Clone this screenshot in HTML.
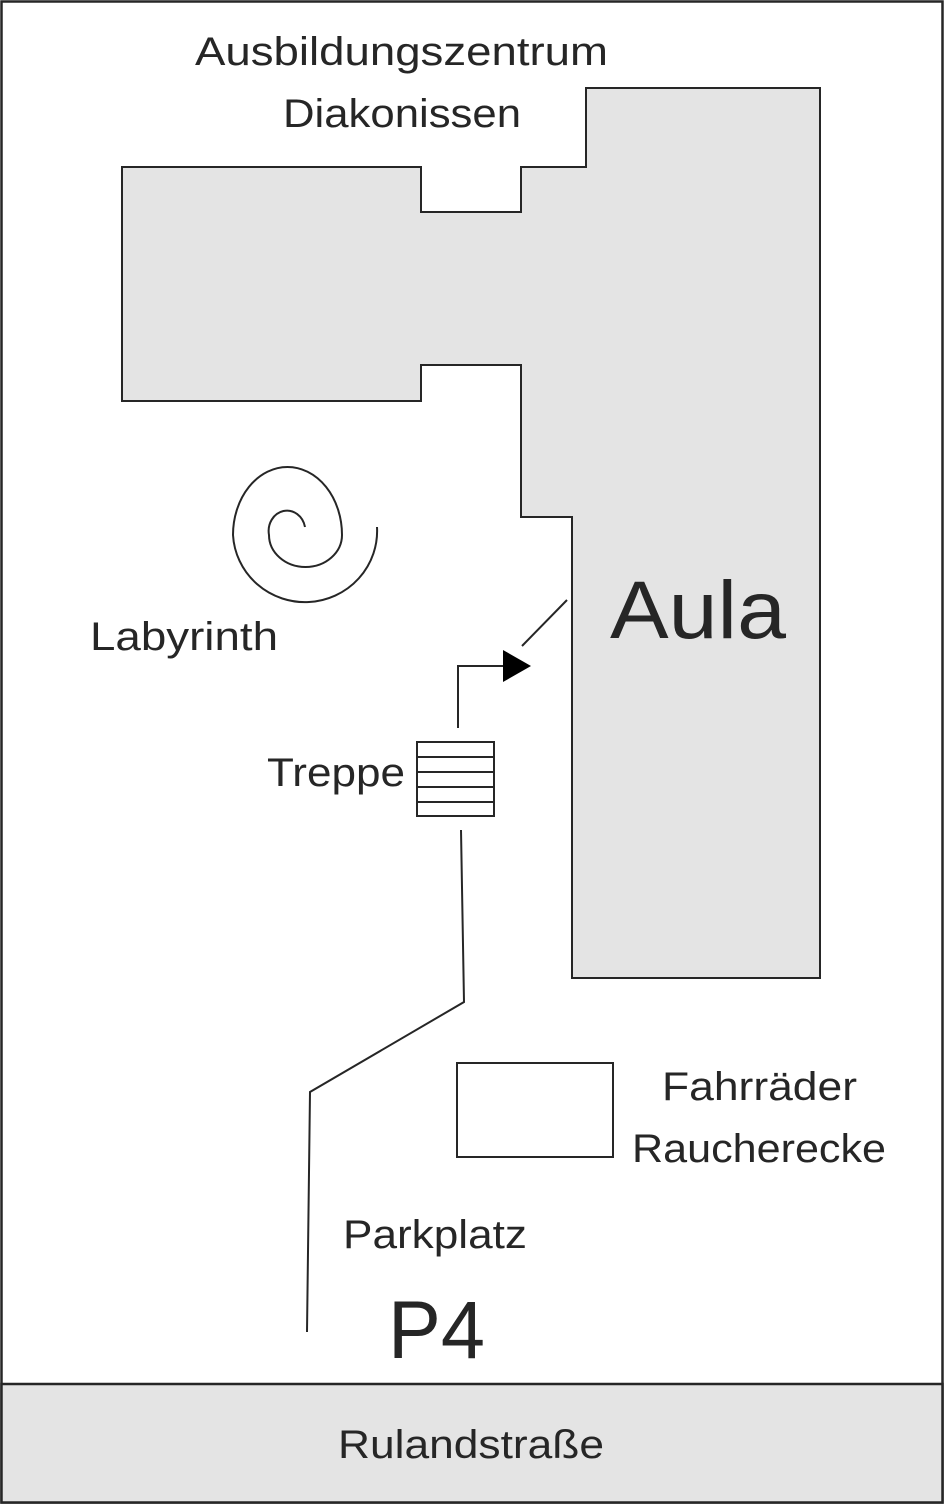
<!DOCTYPE html>
<html><head><meta charset="utf-8"><style>html,body{margin:0;padding:0;background:#fff}svg{display:block}</style></head>
<body>
<svg width="944" height="1504" viewBox="0 0 944 1504" xmlns="http://www.w3.org/2000/svg" font-family="'Liberation Sans', sans-serif" fill="#262626">
<rect x="1.5" y="1.5" width="941" height="1501" fill="#fff" stroke="#262626" stroke-width="2.5"/>
<rect x="1.5" y="1384" width="941" height="118.5" fill="#e4e4e4" stroke="#262626" stroke-width="2.5"/>
<polygon points="122,167 421,167 421,212 521,212 521,167 586,167 586,88 820,88 820,978 572,978 572,517 521,517 521,365 421,365 421,401 122,401" fill="#e4e4e4" stroke="#262626" stroke-width="2"/>
<path d="M305,527 A18,20 0 0 0 269,535 A36.5,32 0 0 0 342,535 A54.5,68 0 0 0 233,535 A72,71 0 0 0 377,527" fill="none" stroke="#262626" stroke-width="2"/>
<line x1="522" y1="646" x2="567" y2="600" stroke="#262626" stroke-width="2"/>
<polyline points="458,728 458,666 505,666" fill="none" stroke="#262626" stroke-width="2"/>
<polygon points="503,650 531,666 503,682" fill="#000"/>
<rect x="417" y="742" width="77" height="74" fill="#fff" stroke="#262626" stroke-width="2"/>
<g stroke="#262626" stroke-width="2"><line x1="417" y1="757" x2="494" y2="757"/><line x1="417" y1="772" x2="494" y2="772"/><line x1="417" y1="787" x2="494" y2="787"/><line x1="417" y1="802" x2="494" y2="802"/></g>
<polyline points="461,830 464,1002 310,1092 307,1332" fill="none" stroke="#262626" stroke-width="2"/>
<rect x="457" y="1063" width="156" height="94" fill="#fff" stroke="#262626" stroke-width="2"/>
<g font-size="40">
<text x="195" y="65" textLength="413" lengthAdjust="spacingAndGlyphs">Ausbildungszentrum</text>
<text x="283" y="127" textLength="238" lengthAdjust="spacingAndGlyphs">Diakonissen</text>
<text x="90" y="650" textLength="188" lengthAdjust="spacingAndGlyphs">Labyrinth</text>
<text x="267" y="786" textLength="138" lengthAdjust="spacingAndGlyphs">Treppe</text>
<text x="662" y="1100" textLength="195" lengthAdjust="spacingAndGlyphs">Fahrräder</text>
<text x="632" y="1162" textLength="254" lengthAdjust="spacingAndGlyphs">Raucherecke</text>
<text x="343" y="1248" textLength="184" lengthAdjust="spacingAndGlyphs">Parkplatz</text>
<text x="338" y="1458" textLength="266" lengthAdjust="spacingAndGlyphs">Rulandstraße</text>
</g>
<text x="610" y="638" font-size="82" textLength="176" lengthAdjust="spacingAndGlyphs">Aula</text>
<text x="388" y="1358" font-size="82" textLength="97" lengthAdjust="spacingAndGlyphs">P4</text>
</svg>
</body></html>
